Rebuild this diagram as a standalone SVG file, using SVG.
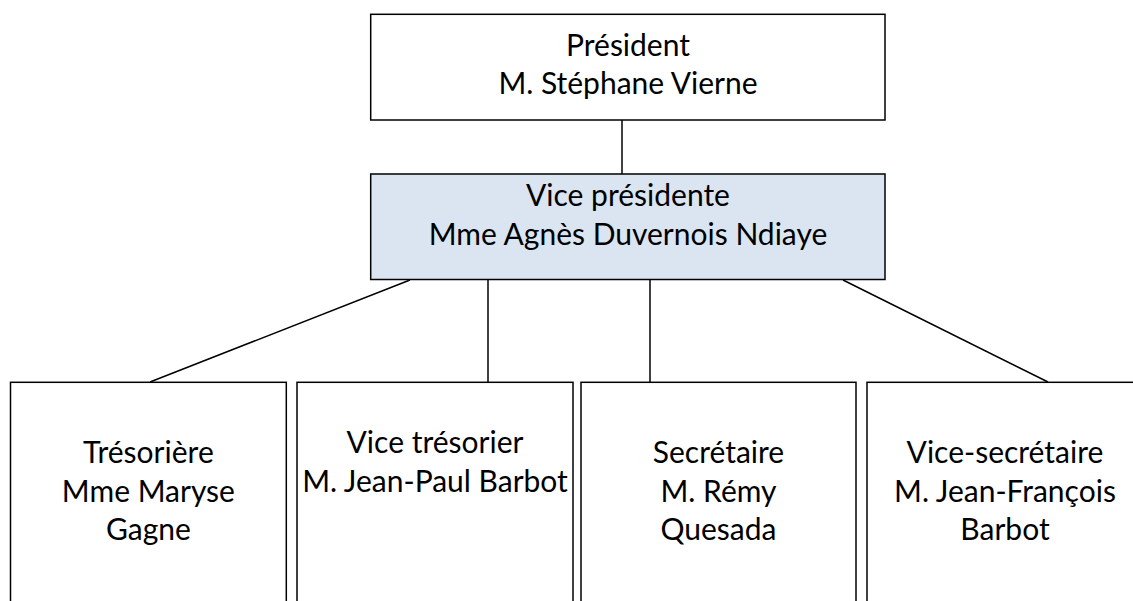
<svg xmlns="http://www.w3.org/2000/svg" width="1133" height="601" viewBox="0 0 1133 601">
<style>
.box{fill:#fff;stroke:#000;stroke-width:1.5}
.vp{fill:#dbe5f1;stroke:#000;stroke-width:1.5}
.ln{stroke:#000;stroke-width:1.5;fill:none}
text{font-family:Lato,"Liberation Sans",sans-serif;font-size:30px;fill:#000;text-anchor:middle}
</style>
<rect width="1133" height="601" fill="#fff"/>
<g id="connectors">
<line class="ln" x1="622" y1="120" x2="622" y2="174"/>
<line class="ln" x1="410" y1="280" x2="150" y2="382"/>
<line class="ln" x1="488" y1="280" x2="488" y2="382"/>
<line class="ln" x1="650" y1="280" x2="650" y2="382"/>
<line class="ln" x1="843" y1="280" x2="1048" y2="382"/>
</g>
<g id="president">
<rect class="box" x="370.7" y="14.3" width="514.3" height="105.7"/>
<text x="628" y="56">Président</text>
<text x="628" y="94.3">M. Stéphane Vierne</text>
</g>
<g id="vice-presidente">
<rect class="vp" x="370.7" y="174" width="514.3" height="105.5"/>
<text x="628" y="205.7">Vice présidente</text>
<text x="628" y="245">Mme Agnès Duvernois Ndiaye</text>
</g>
<g id="tresoriere">
<rect class="box" x="10.5" y="382.3" width="275.8" height="240"/>
<text x="148.4" y="463.3">Trésorière</text>
<text x="148.4" y="501.7">Mme Maryse</text>
<text x="148.4" y="540">Gagne</text>
</g>
<g id="vice-tresorier">
<rect class="box" x="297" y="382.3" width="276" height="240"/>
<text x="435" y="453.3">Vice trésorier</text>
<text x="435" y="491.7">M. Jean-Paul Barbot</text>
</g>
<g id="secretaire">
<rect class="box" x="581" y="382.3" width="275" height="240"/>
<text x="718.5" y="463.3">Secrétaire</text>
<text x="718.5" y="501.7">M. Rémy</text>
<text x="718.5" y="540">Quesada</text>
</g>
<g id="vice-secretaire">
<rect class="box" x="867" y="382.3" width="276" height="240"/>
<text x="1005" y="463.3">Vice-secrétaire</text>
<text x="1005" y="501.7">M. Jean-François</text>
<text x="1005" y="540">Barbot</text>
</g>
</svg>
